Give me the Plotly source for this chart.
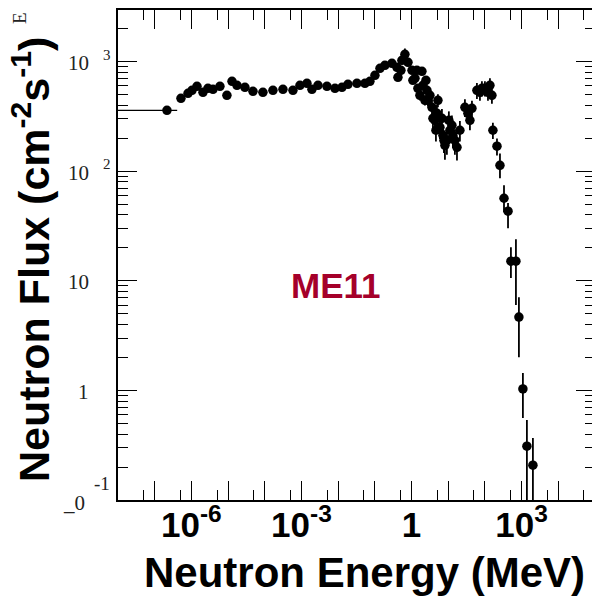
import plotly.graph_objects as go

# ---- data ----
# thermal bin (first point, with horizontal energy bar)
thermal_energy = [2.16e-7]
thermal_flux = [359]
thermal_bin_low = [1e-9]
thermal_bin_high = [4.1e-7]

energy_mev = [5.2e-7, 8.1e-7, 1.04e-6, 1.42e-6, 2.07e-6, 2.83e-6, 3.88e-6, 6.0e-6, 9.3e-6, 1.28e-5,
              1.75e-5, 2.88e-5, 4.77e-5, 8.9e-5, 1.67e-4, 3.13e-4, 5.86e-4, 9.1e-4, 1.41e-3, 1.93e-3,
              2.82e-3, 4.95e-3, 8.2e-3, 0.0127, 0.0185, 0.0325, 0.0537, 0.0734,
              0.1007, 0.138, 0.188, 0.292, 0.40, 0.426, 0.514, 0.547, 0.66, 0.80,
              1.03, 1.09, 1.24, 1.40, 1.49, 1.69, 1.92, 2.05, 2.32, 2.47, 2.63,
              2.80, 3.17, 3.60, 3.83, 4.34, 4.62, 4.92, 5.24, 5.94, 6.73,
              7.18, 7.64, 8.13, 9.2, 10.4, 11.1, 12.6, 13.4, 15.2, 17.3,
              20.8, 28.5, 34.4, 39.0, 44.3,
              60.5, 73.1, 82.8, 100, 121, 137, 155, 165,
              213, 257, 331, 426,
              511, 700, 844, 1084, 1393, 2032]

flux = [462, 513, 546, 594, 524, 570, 558, 594, 492, 660,
        607, 582, 535, 524, 546, 558, 546, 607, 632, 558,
        607, 594, 570, 582, 620, 632, 632, 660,
        748, 867, 923, 963, 885, 718, 832, 1026, 1163, 984,
        832, 674, 703, 832, 570, 492, 814, 607, 443, 674, 546,
        443, 492, 382, 303, 291, 236, 337, 443, 251, 303,
        212, 191, 172, 191, 291, 236, 262, 212, 191, 165,
        236, 382, 337, 291, 374,
        546, 524, 570, 570, 524, 607, 492, 236,
        169, 113, 56.6, 43.1,
        15.1, 15.1, 4.66, 1.03, 0.31, 0.208]

flux_err_plus = [15, 16, 17, 18, 16, 17, 17, 18, 15, 20,
                 18, 17, 16, 16, 17, 17, 16, 18, 19, 17,
                 18, 18, 17, 17, 19, 19, 19, 20,
                 40, 50, 60, 70, 60, 50, 60, 80, 150, 80,
                 60, 50, 50, 60, 45, 50, 60, 50, 45, 55, 45,
                 60, 70, 70, 60, 60, 55, 65, 60, 55, 65,
                 50, 45, 45, 50, 60, 55, 60, 50, 50, 40,
                 50, 70, 60, 55, 65,
                 90, 85, 90, 90, 85, 95, 80, 40,
                 30, 32, 17.7, 8,
                 5.1, 8.8, 2.4, 0.41, 0.226, 0.16]

flux_err_minus = [15, 16, 17, 18, 16, 17, 17, 18, 15, 20,
                  18, 17, 16, 16, 17, 17, 16, 18, 19, 17,
                  18, 18, 17, 17, 19, 19, 19, 20,
                  40, 50, 60, 70, 60, 50, 60, 80, 100, 80,
                  60, 50, 50, 60, 45, 50, 60, 50, 45, 55, 45,
                  55, 70, 70, 60, 60, 50, 65, 60, 55, 65,
                  50, 45, 45, 50, 55, 55, 60, 50, 50, 40,
                  50, 70, 60, 55, 65,
                  90, 85, 90, 90, 85, 95, 80, 40,
                  30, 27, 14.4, 13,
                  4.5, 9.1, 2.65, 0.47, 0.30, 0.20]

# x axis ticks
x_major = [1e-7, 1e-6, 1e-5, 1e-4, 1e-3, 1e-2, 1e-1, 1, 10, 100, 1e3, 1e4]
x_text = ["", "10<sup>-6</sup>", "", "", "10<sup>-3</sup>", "", "", "1", "", "", "10<sup>3</sup>", ""]
x_minor = [5e-8, 5e-7, 5e-6, 5e-5, 5e-4, 5e-3, 5e-2, 0.5, 5, 50, 500, 5e3, 5e4]

# y axis ticks
y_major = [0.1, 1, 10, 100, 1000]
y_minor = [0.2, 0.3, 0.4, 0.5, 0.6, 0.7, 0.8, 0.9,
           2, 3, 4, 5, 6, 7, 8, 9,
           20, 30, 40, 50, 60, 70, 80, 90,
           200, 300, 400, 500, 600, 700, 800, 900, 2000]
y_label_pos = [3, 2, 1, 0]          # log10 of the labelled values
y_label_base = ["10", "10", "10", "1"]
y_label_sup = ["3", "2", "", ""]

# ---- geometry (page has an 8px body margin, so the figure is shrunk by it) ----
OFF = 8
W, H = 600 - OFF, 596 - OFF
PL, PR, PT, PB = 118, 595, 10, 500          # plot frame in page pixels
L, T = PL - OFF, PT - OFF
R, B = W - (PR - OFF), H - (PB - OFF)
PW, PH = PR - PL, PB - PT


def px_x(px):
    return (px - PL) / PW


def px_y(py):
    return (PB - py) / PH


fig = go.Figure()

fig.add_trace(go.Scatter(
    x=energy_mev, y=flux, mode="markers",
    marker=dict(color="black", size=9.5, symbol="circle"),
    error_y=dict(type="data", symmetric=False, array=flux_err_plus,
                 arrayminus=flux_err_minus, color="black", thickness=1.8, width=0),
    showlegend=False,
))

fig.add_trace(go.Scatter(
    x=thermal_energy, y=thermal_flux, mode="markers",
    marker=dict(color="black", size=9.5, symbol="circle"),
    error_x=dict(type="data", symmetric=False,
                 array=[thermal_bin_high[0] - thermal_energy[0]],
                 arrayminus=[thermal_energy[0] - thermal_bin_low[0]],
                 color="black", thickness=1.2, width=0),
    showlegend=False,
))

axis_common = dict(
    showline=True, linecolor="black", linewidth=1.5, mirror="ticks",
    ticks="inside", ticklen=19, tickwidth=1.3, tickcolor="black",
    showgrid=False, zeroline=False,
)

fig.update_xaxes(
    type="log", range=[-8, 5],
    tickmode="array", tickvals=x_major, ticktext=x_text,
    tickfont=dict(family="Liberation Sans", size=35, color="black", weight="bold"),
    ticklabelstandoff=-7,
    minor=dict(tickmode="array", tickvals=x_minor, ticks="inside", ticklen=10,
               tickwidth=1.3, tickcolor="black", showgrid=False),
    **axis_common,
)
fig.update_yaxes(
    type="log", range=[-1, 3.47],
    tickmode="array", tickvals=y_major, showticklabels=False,
    minor=dict(tickmode="array", tickvals=y_minor, ticks="inside", ticklen=10,
               tickwidth=1.3, tickcolor="black", showgrid=False),
    **axis_common,
)

annotations = []
serif = "Liberation Serif"
for pos, base, sup in zip(y_label_pos, y_label_base, y_label_sup):
    annotations.append(dict(x=px_x(91), xref="paper", y=pos, yref="y", text=base,
                            xanchor="right", yanchor="middle", yshift=-1.5, showarrow=False,
                            font=dict(family=serif, size=21, color="#222")))
    if sup:
        annotations.append(dict(x=px_x(101), xref="paper", y=pos, yref="y", text=sup,
                                xanchor="left", yanchor="middle", yshift=7, showarrow=False,
                                font=dict(family=serif, size=15, color="#222")))
# odd bottom label of the reference
annotations.append(dict(x=px_x(92), xref="paper", y=-1, yref="y", text="-1",
                        xanchor="left", yanchor="middle", yshift=17, showarrow=False,
                        font=dict(family=serif, size=19, color="#222")))
annotations.append(dict(x=px_x(87), xref="paper", y=-1, yref="y", text="_0",
                        xanchor="right", yanchor="middle", yshift=-3, showarrow=False,
                        font=dict(family=serif, size=21, color="#222")))

# axis titles
annotations.append(dict(x=px_x(31), xref="paper", y=px_y(260), yref="paper",
                        text="Neutron Flux (cm<sup>-2</sup>s<sup>-1</sup>)", textangle=-90,
                        xanchor="center", yanchor="middle", showarrow=False,
                        font=dict(family="Liberation Sans", size=43, color="black", weight="bold")))
annotations.append(dict(x=px_x(364), xref="paper", y=px_y(572), yref="paper",
                        text="Neutron Energy (MeV)",
                        xanchor="center", yanchor="middle", showarrow=False,
                        font=dict(family="Liberation Sans", size=42, color="black", weight="bold")))
# label
annotations.append(dict(x=px_x(336), xref="paper", y=px_y(285), yref="paper",
                        text="ME11", xanchor="center", yanchor="middle", showarrow=False,
                        font=dict(family="Liberation Sans", size=35, color="#A5002A", weight="bold")))
# small rotated glyph at top-left
annotations.append(dict(x=px_x(20), xref="paper", y=px_y(18), yref="paper",
                        text="E", textangle=-90, xanchor="center", yanchor="middle", showarrow=False,
                        font=dict(family=serif, size=19, color="#222")))

fig.update_layout(
    width=W, height=H,
    margin=dict(l=L, r=R, t=T, b=B, autoexpand=False),
    plot_bgcolor="white", paper_bgcolor="white",
    showlegend=False,
    annotations=annotations,
)

fig.write_html("out.html")
